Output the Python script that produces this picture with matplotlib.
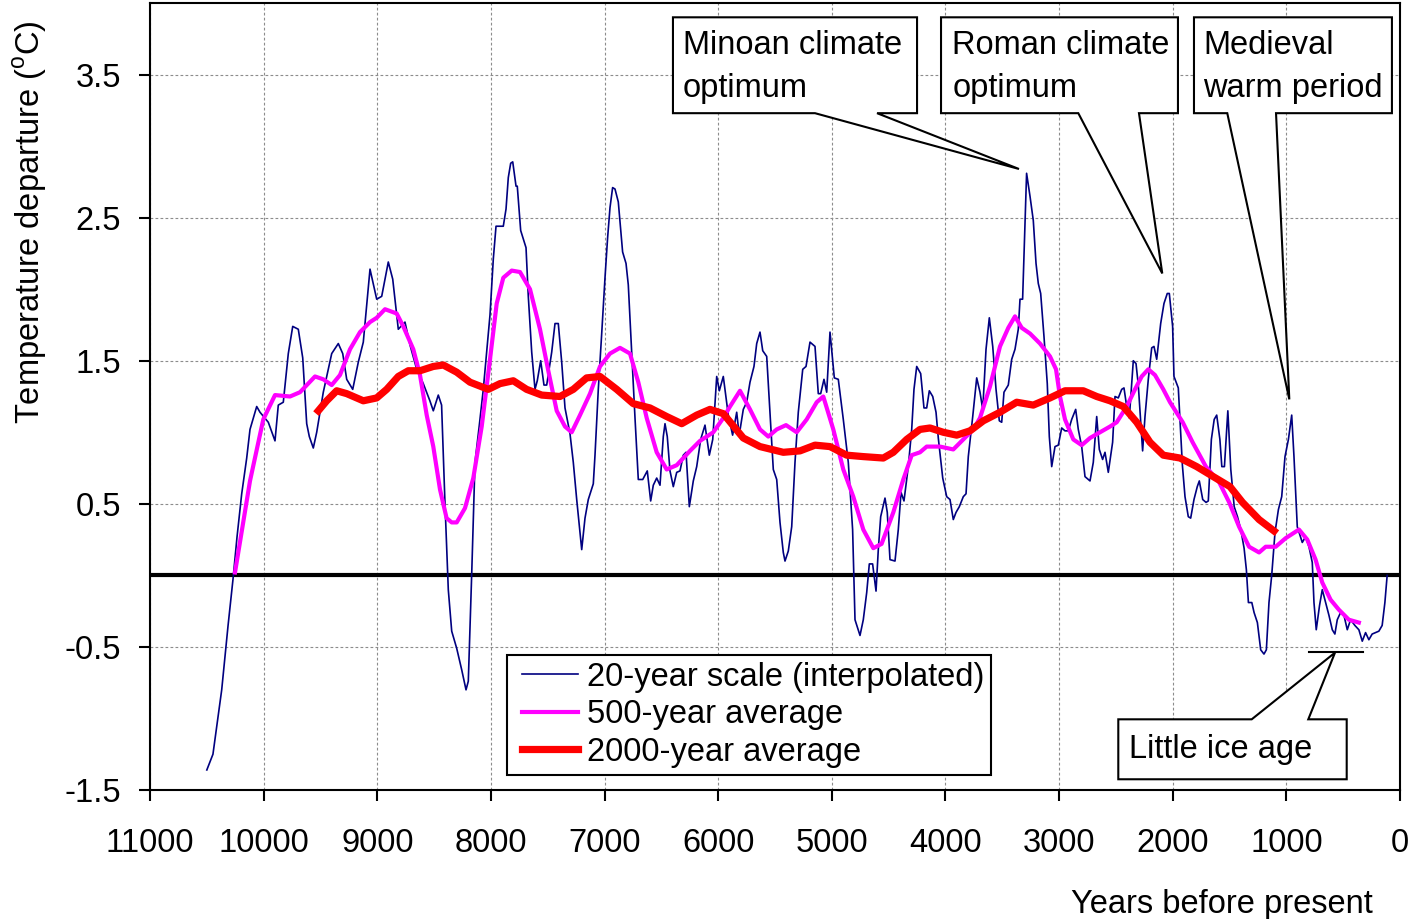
import numpy as np
import matplotlib
matplotlib.use("Agg")
import matplotlib.pyplot as plt
from matplotlib.patches import Polygon
from matplotlib.lines import Line2D
from matplotlib.legend_handler import HandlerLine2D

plt.rcParams.update({"font.family": ["Liberation Sans", "DejaVu Sans"], "font.size": 23.5,
                     "axes.unicode_minus": False, "mathtext.fontset": "custom",
                     "mathtext.rm": "Liberation Sans", "axes.linewidth": 1.5})

# 20-year scale (interpolated): years before present, temperature departure
yr20 = [10500, 10446, 10369, 10313, 10270, 10234, 10193, 10149, 10120, 10061, 10032, 9959, 9900, 9871,
        9827, 9783, 9744, 9695, 9656, 9621, 9598, 9563, 9533, 9475, 9401, 9343, 9304, 9269, 9216, 9167,
        9123, 9064, 9005, 8961, 8903, 8864, 8815, 8756, 8712, 8653, 8595, 8537, 8507, 8463, 8434, 8404,
        8375, 8345, 8301, 8257, 8219, 8199, 8169, 8140, 8102, 8067, 8008, 7979, 7955, 7920, 7891, 7867,
        7847, 7826, 7808, 7779, 7768, 7738, 7715, 7691, 7671, 7641, 7612, 7592, 7562, 7533, 7509, 7465,
        7436, 7407, 7377, 7348, 7304, 7275, 7245, 7201, 7172, 7143, 7099, 7084, 7055, 7025, 6996, 6973,
        6952, 6929, 6908, 6879, 6841, 6811, 6791, 6761, 6732, 6703, 6664, 6624, 6594, 6571, 6541, 6512,
        6483, 6468, 6448, 6424, 6395, 6365, 6336, 6307, 6283, 6254, 6219, 6189, 6154, 6116, 6078, 6048,
        6013, 5990, 5955, 5911, 5873, 5837, 5815, 5779, 5749, 5720, 5685, 5661, 5632, 5608, 5573, 5544,
        5515, 5485, 5456, 5427, 5412, 5383, 5353, 5324, 5295, 5256, 5227, 5192, 5148, 5119, 5098, 5069,
        5045, 5016, 4978, 4943, 4899, 4855, 4817, 4796, 4752, 4723, 4693, 4670, 4641, 4611, 4591, 4570,
        4532, 4512, 4488, 4444, 4415, 4391, 4365, 4327, 4297, 4277, 4253, 4218, 4189, 4165, 4142, 4112,
        4083, 4063, 4024, 3989, 3960, 3931, 3907, 3878, 3843, 3819, 3799, 3760, 3725, 3696, 3672, 3643,
        3614, 3584, 3555, 3526, 3505, 3485, 3447, 3417, 3388, 3359, 3344, 3321, 3286, 3256, 3227, 3203,
        3183, 3162, 3133, 3104, 3086, 3065, 3036, 3007, 2977, 2948, 2919, 2889, 2854, 2831, 2801, 2772,
        2728, 2699, 2669, 2646, 2617, 2596, 2567, 2529, 2508, 2479, 2449, 2429, 2405, 2382, 2347, 2323,
        2303, 2265, 2244, 2215, 2185, 2165, 2141, 2106, 2077, 2048, 2030, 2001, 1989, 1951, 1915, 1892,
        1863, 1842, 1813, 1784, 1766, 1736, 1707, 1687, 1660, 1635, 1613, 1585, 1568, 1545, 1515, 1489,
        1459, 1430, 1401, 1372, 1352, 1334, 1304, 1284, 1255, 1226, 1197, 1176, 1153, 1129, 1100, 1070,
        1041, 1012, 982, 953, 933, 904, 860, 831, 801, 772, 757, 737, 708, 684, 655, 625, 596, 573, 552,
        523, 493, 464, 435, 397, 362, 332, 303, 274, 245, 216, 186, 157, 133, 113]
t20 = [-1.36, -1.25, -0.80, -0.35, -0.03, 0.27, 0.57, 0.82, 1.02, 1.18, 1.14, 1.07, 0.94, 1.19,
       1.21, 1.55, 1.74, 1.72, 1.52, 1.06, 0.97, 0.89, 1.00, 1.28, 1.55, 1.62, 1.55, 1.37, 1.30, 1.49,
       1.63, 2.14, 1.93, 1.95, 2.19, 2.07, 1.72, 1.77, 1.61, 1.44, 1.34, 1.22, 1.15, 1.26, 1.19, 0.50,
       -0.10, -0.39, -0.51, -0.66, -0.80, -0.74, 0.01, 0.79, 1.05, 1.30, 1.82, 2.21, 2.44, 2.44, 2.44, 2.56,
       2.78, 2.88, 2.89, 2.72, 2.72, 2.41, 2.35, 2.29, 1.95, 1.56, 1.30, 1.36, 1.50, 1.33, 1.33, 1.56,
       1.76, 1.76, 1.49, 1.17, 0.99, 0.79, 0.53, 0.18, 0.40, 0.53, 0.64, 0.84, 1.30, 1.69, 2.08, 2.36,
       2.57, 2.71, 2.70, 2.61, 2.26, 2.18, 2.03, 1.56, 1.10, 0.67, 0.67, 0.73, 0.52, 0.63, 0.68, 0.63,
       0.97, 1.06, 0.97, 0.73, 0.62, 0.72, 0.73, 0.84, 0.86, 0.48, 0.66, 0.76, 0.95, 1.05, 0.84, 0.95,
       1.39, 1.29, 1.39, 1.12, 0.98, 1.14, 0.98, 1.16, 1.21, 1.35, 1.46, 1.62, 1.70, 1.57, 1.53, 1.14,
       0.74, 0.67, 0.37, 0.16, 0.10, 0.17, 0.34, 0.79, 1.14, 1.44, 1.46, 1.63, 1.60, 1.27, 1.27, 1.37,
       1.28, 1.70, 1.38, 1.37, 1.09, 0.79, 0.32, -0.31, -0.42, -0.31, -0.12, 0.08, 0.08, -0.11, 0.18, 0.41,
       0.54, 0.44, 0.11, 0.10, 0.32, 0.58, 0.52, 0.76, 1.02, 1.30, 1.46, 1.41, 1.17, 1.17, 1.29, 1.25,
       1.14, 0.96, 0.68, 0.55, 0.53, 0.39, 0.44, 0.48, 0.55, 0.57, 0.83, 1.11, 1.38, 1.28, 1.16, 1.58,
       1.80, 1.60, 1.30, 1.08, 1.07, 1.28, 1.33, 1.51, 1.58, 1.72, 1.93, 1.93, 2.81, 2.65, 2.48, 2.18,
       2.04, 1.97, 1.67, 1.34, 0.97, 0.76, 0.90, 0.91, 1.03, 1.01, 1.01, 1.09, 1.16, 1.02, 0.90, 0.69,
       0.66, 0.79, 1.11, 0.88, 0.81, 0.86, 0.72, 0.93, 1.25, 1.24, 1.30, 1.31, 1.18, 1.10, 1.50, 1.48,
       1.33, 0.87, 1.11, 1.37, 1.59, 1.60, 1.51, 1.76, 1.90, 1.97, 1.97, 1.74, 1.39, 1.31, 0.77, 0.55,
       0.41, 0.40, 0.53, 0.62, 0.66, 0.53, 0.51, 0.52, 0.95, 1.09, 1.12, 0.95, 0.76, 0.76, 1.15, 0.74,
       0.48, 0.41, 0.32, 0.19, 0.04, -0.19, -0.19, -0.26, -0.33, -0.52, -0.55, -0.52, -0.19, 0.00, 0.30, 0.46,
       0.55, 0.83, 0.95, 1.12, 0.83, 0.34, 0.23, 0.27, 0.20, 0.09, -0.19, -0.38, -0.21, -0.10, -0.19, -0.28,
       -0.38, -0.41, -0.31, -0.26, -0.28, -0.38, -0.31, -0.35, -0.38, -0.46, -0.40, -0.45, -0.41, -0.40,
       -0.39, -0.35, -0.19, 0.00]

# 500-year average
yr500 = [10252, 10120, 10003, 9900, 9768, 9680, 9548, 9475, 9401, 9328, 9240, 9152, 9064, 9005, 8932,
         8829, 8771, 8683, 8624, 8565, 8507, 8448, 8390, 8345, 8301, 8228, 8155, 8081, 8008, 7949, 7891,
         7817, 7744, 7656, 7568, 7495, 7421, 7348, 7289, 7216, 7128, 7040, 6952, 6864, 6776, 6703, 6629,
         6541, 6453, 6365, 6248, 6160, 6043, 5955, 5896, 5808, 5720, 5632, 5559, 5485, 5403, 5309, 5221,
         5133, 5075, 4987, 4899, 4811, 4723, 4635, 4562, 4459, 4371, 4297, 4224, 4165, 4048, 3931, 3843,
         3755, 3696, 3608, 3520, 3447, 3388, 3329, 3256, 3168, 3080, 3027, 2992, 2948, 2875, 2801, 2728,
         2640, 2552, 2493, 2405, 2332, 2273, 2215, 2156, 2083, 2024, 1912, 1825, 1708, 1591, 1503, 1416,
         1328, 1240, 1182, 1094, 1006, 889, 816, 743, 684, 611, 538, 450, 362]
t500 = [0.02, 0.66, 1.09, 1.26, 1.25, 1.28, 1.39, 1.37, 1.33, 1.40, 1.58, 1.70, 1.77, 1.80, 1.86,
        1.83, 1.74, 1.58, 1.40, 1.12, 0.90, 0.60, 0.40, 0.37, 0.37, 0.47, 0.68, 1.04, 1.51, 1.90, 2.08,
        2.13, 2.12, 2.00, 1.72, 1.43, 1.15, 1.04, 1.00, 1.12, 1.27, 1.46, 1.55, 1.59, 1.55, 1.35, 1.10,
        0.86, 0.74, 0.77, 0.87, 0.94, 1.00, 1.10, 1.18, 1.29, 1.16, 1.02, 0.97, 1.02, 1.05, 1.00, 1.09,
        1.21, 1.25, 1.02, 0.74, 0.55, 0.32, 0.19, 0.22, 0.44, 0.67, 0.84, 0.86, 0.90, 0.90, 0.88, 0.95,
        1.02, 1.10, 1.32, 1.60, 1.73, 1.81, 1.73, 1.69, 1.62, 1.53, 1.44, 1.25, 1.09, 0.95, 0.91, 0.96,
        1.00, 1.04, 1.07, 1.18, 1.30, 1.39, 1.44, 1.40, 1.30, 1.21, 1.07, 0.93, 0.76, 0.65, 0.51, 0.34,
        0.20, 0.16, 0.20, 0.20, 0.26, 0.32, 0.25, 0.11, -0.05, -0.17, -0.24, -0.31, -0.33]

# 2000-year average
yr2000 = [9519, 9445, 9357, 9269, 9123, 9005, 8917, 8815, 8727, 8624, 8507, 8419, 8301, 8184, 8023,
          7920, 7803, 7686, 7553, 7392, 7275, 7158, 7040, 6893, 6747, 6600, 6453, 6321, 6189, 6072, 5955,
          5779, 5632, 5427, 5280, 5148, 5016, 4869, 4723, 4547, 4459, 4341, 4224, 4136, 4019, 3901, 3784,
          3667, 3520, 3373, 3227, 3080, 2948, 2787, 2669, 2552, 2435, 2317, 2200, 2083, 1936, 1789, 1643,
          1496, 1386, 1240, 1108]
t2000 = [1.15, 1.22, 1.29, 1.27, 1.22, 1.24, 1.30, 1.39, 1.43, 1.43, 1.46, 1.47, 1.42, 1.35, 1.30,
         1.34, 1.36, 1.30, 1.26, 1.25, 1.30, 1.38, 1.39, 1.30, 1.20, 1.17, 1.11, 1.06, 1.12, 1.16, 1.13,
         0.96, 0.90, 0.86, 0.87, 0.91, 0.90, 0.84, 0.83, 0.82, 0.86, 0.95, 1.02, 1.03, 1.00, 0.98, 1.01,
         1.08, 1.14, 1.21, 1.19, 1.24, 1.29, 1.29, 1.25, 1.22, 1.18, 1.07, 0.93, 0.84, 0.82, 0.76, 0.69,
         0.62, 0.51, 0.39, 0.31]

xticks = list(range(11000, -1, -1000))
yticks = [-1.5, -0.5, 0.5, 1.5, 2.5, 3.5]

NAVY = "#000080"; MAGENTA = "#ff00ff"; RED = "#ff0000"


def callout(ax, left, right, bottom, top, base, tip, side="bottom"):
    # box outline with an open wedge pointing at the tip (Excel-style callout)
    if side == "bottom":
        pts = [(left, top), (right, top), (right, bottom), (base[1], bottom), tip,
               (base[0], bottom), (left, bottom)]
    else:
        pts = [(left, bottom), (right, bottom), (right, top), (base[1], top), tip,
               (base[0], top), (left, top)]
    ax.add_patch(Polygon(pts, closed=True, fc="white", ec="black", lw=1.5, zorder=6,
                         clip_on=False, joinstyle="miter"))


fig = plt.figure(figsize=(14.09, 9.19), dpi=100)
ax = fig.add_axes([150 / 1409, 129 / 919, 1250 / 1409, 787 / 919])

ax.plot(yr20, t20, color=NAVY, lw=1.2, zorder=3, label="20-year scale (interpolated)")
ax.plot(yr500, t500, color=MAGENTA, lw=3.0, zorder=4, label="500-year average")
ax.plot(yr2000, t2000, color=RED, lw=5.2, zorder=5, label="2000-year average")
ax.axhline(0, color="black", lw=3, zorder=2)

ax.set_xlim(11000, 0); ax.set_ylim(-1.5, 4.0)
ax.set_xticks(xticks); ax.set_xticklabels([str(v) for v in xticks])
ax.set_yticks(yticks); ax.set_yticklabels([f"{v:.1f}" for v in yticks])
ax.tick_params(direction="out", length=8, width=1.5, pad=13)
ax.tick_params(axis="x", pad=19)
ax.grid(True, color="#8c8c8c", lw=0.8, ls=(0, (2.5, 2)))
ax.set_axisbelow(True)

ax.set_ylabel(r"Temperature departure ($^{\rm o}$C)", va="center", ha="center")
ax.yaxis.set_label_coords(-0.096, 0.722)
ax.set_xlabel("Years before present", ha="right", va="center")
ax.xaxis.set_label_coords(0.978, -0.145)

leg = ax.legend(loc="lower left", bbox_to_anchor=(0.2856, 0.019), borderaxespad=0, fancybox=False,
                framealpha=1, edgecolor="black", handlelength=1.95, handletextpad=0.27,
                labelspacing=0.2, borderpad=0.22,
                handler_map={Line2D: HandlerLine2D(xpad=0.25)})
leg.get_frame().set_linewidth(1.5)
leg.set_zorder(7)

# callouts
callout(ax, 6398, 4250, 3.23, 3.90, (5148, 4602), (3353, 2.84))
ax.text(6312, 3.81, "Minoan climate\noptimum", ha="left", va="top", zorder=7, linespacing=1.5)
callout(ax, 4039, 1954, 3.23, 3.90, (2831, 2297), (2092, 2.11))
ax.text(3940, 3.81, "Roman climate\noptimum", ha="left", va="top", zorder=7, linespacing=1.5)
callout(ax, 1813, 71, 3.23, 3.90, (1520, 1091), (974, 1.23))
ax.text(1731, 3.81, "Medieval\nwarm period", ha="left", va="top", zorder=7, linespacing=1.5)
callout(ax, 2479, 469, -1.425, -1.006, (1305, 807), (572, -0.54), side="top")
ax.text(2382, -1.11, "Little ice age", ha="left", va="top", zorder=7)
ax.plot([798, 328], [-0.533, -0.533], color="black", lw=1.5, zorder=6)

fig.savefig("out.png", dpi=100)
